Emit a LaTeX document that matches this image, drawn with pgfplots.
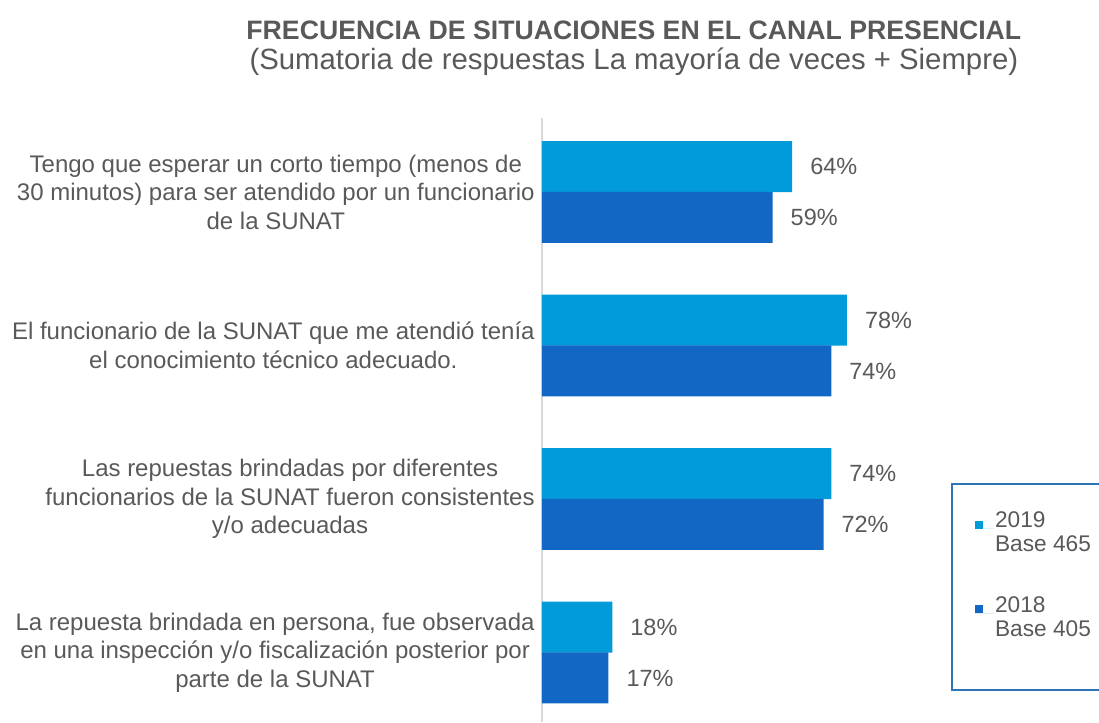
\documentclass[border=0pt]{standalone}
\usepackage{pgfplots}
\pgfplotsset{compat=1.18}
\usepackage{fontspec}
\setmainfont{Liberation Sans}
\definecolor{c2019}{RGB}{0,155,216}
\definecolor{c2018}{RGB}{19,103,196}
\definecolor{txt}{RGB}{89,89,89}
\definecolor{legbord}{RGB}{46,117,182}
\definecolor{axgray}{RGB}{217,217,217}

% one px of the reference = 0.75pt
\begin{document}
\begin{tikzpicture}
\useasboundingbox (0pt,0pt) rectangle (824.25pt,-541.5pt);
\begin{axis}[
    at={(406.5pt,-88.5pt)}, anchor=north west,
    scale only axis,
    width=293.25pt, height=453pt,
    xbar, bar width=38.25pt, bar shift=0pt,
    xmin=0, xmax=100,
    ymin=-0.482, ymax=3.453,
    y dir=reverse,
    axis x line=none,
    axis y line*=left,
    axis line style={axgray, line width=1pt},
    ytick={0,1,2,3},
    major tick length=0pt,
    yticklabels={
        {Tengo que esperar un corto tiempo (menos de\\30 minutos) para ser atendido por un funcionario\\de la SUNAT},
        {El funcionario de la SUNAT que me atendió tenía\\el conocimiento técnico adecuado.},
        {Las repuestas brindadas por diferentes\\funcionarios de la SUNAT fueron consistentes\\y/o adecuadas},
        {La repuesta brindada en persona, fue observada\\en una inspección y/o fiscalización posterior por\\parte de la SUNAT}},
    yticklabel style={align=center, font=\fontsize{18}{21.4}\selectfont, text=txt, xshift=-2pt},
    /pgf/number format/assume math mode=true,
    point meta=x,
    nodes near coords={\pgfmathprintnumber{\pgfplotspointmeta}\%},
    every node near coord/.append style={font=\fontsize{17.6}{20}\selectfont, text=txt, anchor=west, xshift=10pt},
    title={\textbf{FRECUENCIA DE SITUACIONES EN EL CANAL PRESENCIAL}\\{\fontsize{22}{22.5}\selectfont (Sumatoria de respuestas La mayoría de veces + Siempre)}},
    title style={at={(0.235,1.1027)}, anchor=center, align=center, text=txt,
        font=\fontsize{20}{22.5}\selectfont},
    legend style={at={(1.046,0.3957)}, anchor=north west, draw=legbord, line width=1.2pt,
        font=\fontsize{17}{18}\selectfont, text=txt, inner xsep=17.5pt, inner ysep=20pt,
        row sep=30pt, nodes={align=left, inner sep=1pt}},
    legend cell align=left,
]
\addplot[fill=c2019, draw=none,
    legend image code/.code={\fill[c2019] (0pt,3pt) rectangle (6pt,9pt);
        \path (0pt,3pt) -- (14pt,3pt);}]
    coordinates {(64,-0.166) (78,0.834) (74,1.834) (18,2.834)};
\addplot[fill=c2018, draw=none,
    legend image code/.code={\fill[c2018] (0pt,12pt) rectangle (6pt,18pt);
        \path (0pt,12pt) -- (14pt,12pt);}]
    coordinates {(59,0.166) (74,1.166) (72,2.166) (17,3.166)};
\legend{{2019\\Base 465},{2018\\Base 405\\\rule{0pt}{16pt}}}
\end{axis}
\end{tikzpicture}
\end{document}
